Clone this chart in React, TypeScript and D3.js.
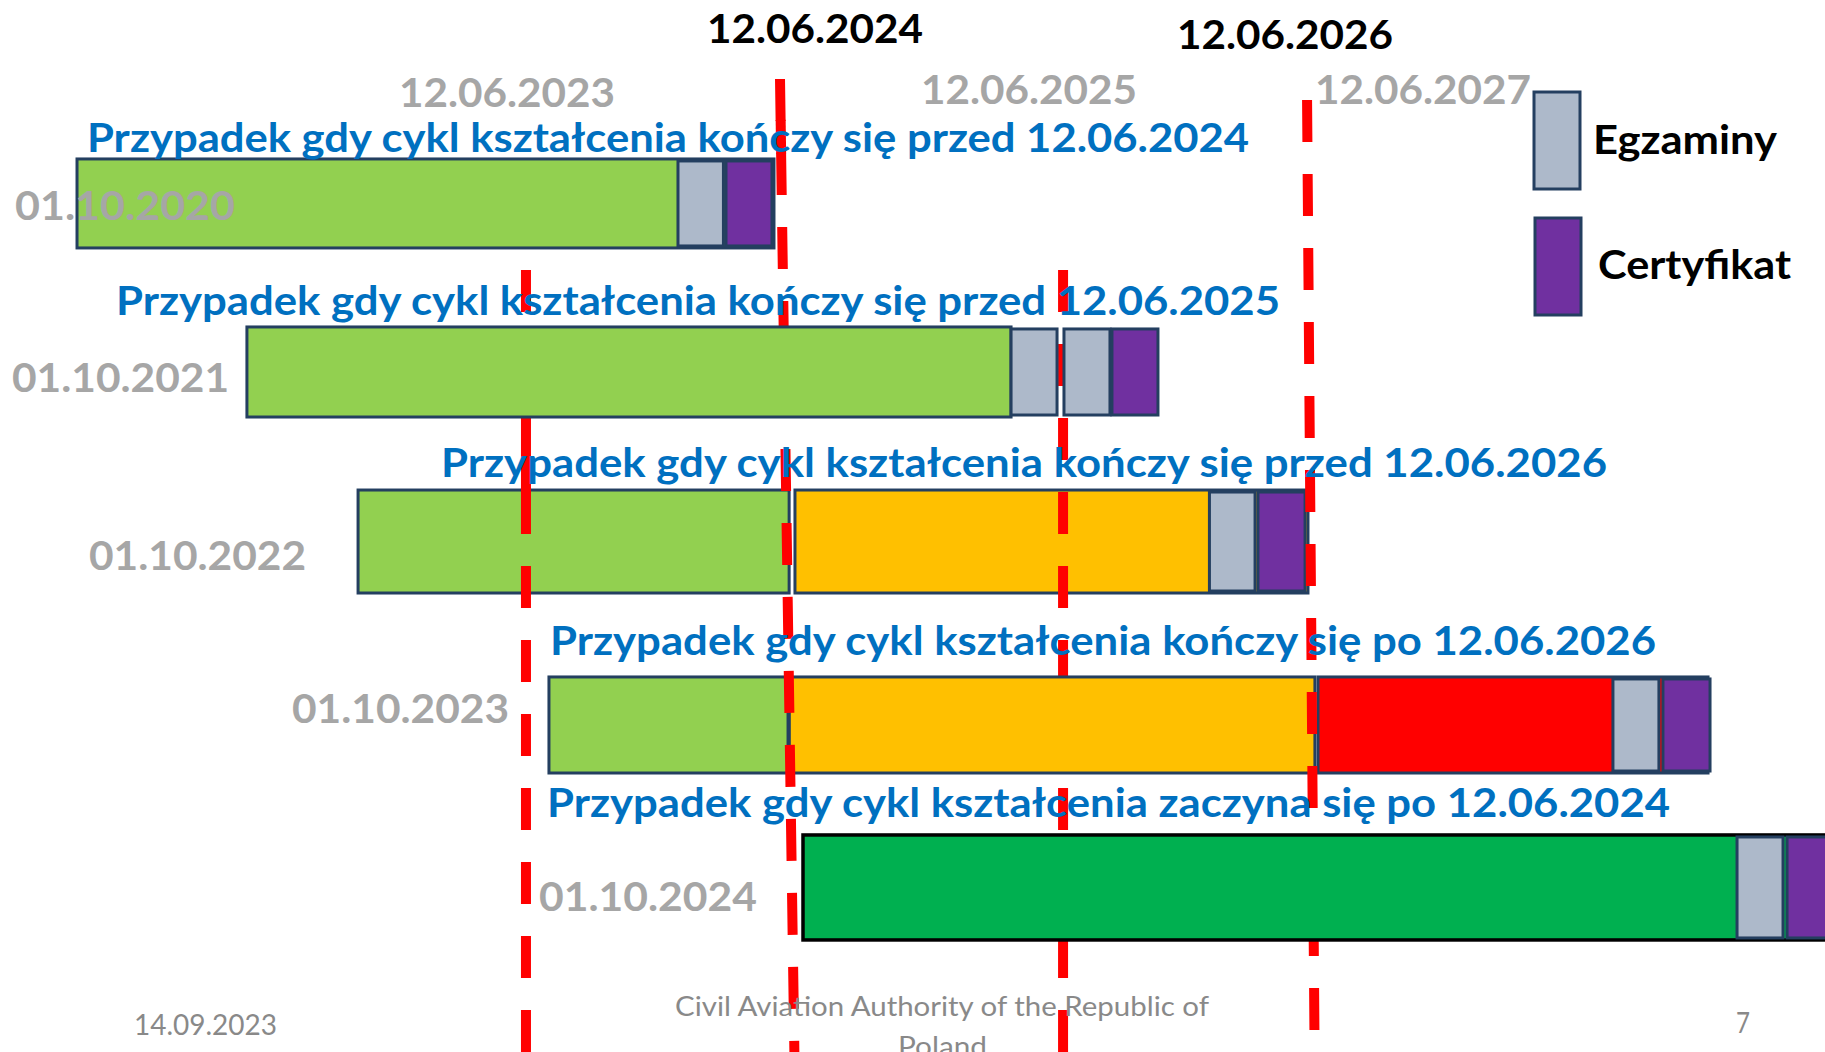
import * as d3 from 'd3'

const W = 1825
const H = 1052

// slide is a schematic timeline, positions are in % of slide width / height
const x = d3.scaleLinear().domain([0, 100]).range([0, W])
const y = d3.scaleLinear().domain([0, 100]).range([0, H])

const ROW_LABELS = ['01.10.2020', '01.10.2021', '01.10.2022', '01.10.2023', '01.10.2024']
const ROW_TITLES = [
  'Przypadek gdy cykl kształcenia kończy się przed 12.06.2024',
  'Przypadek gdy cykl kształcenia kończy się przed 12.06.2025',
  'Przypadek gdy cykl kształcenia kończy się przed 12.06.2026',
  'Przypadek gdy cykl kształcenia kończy się po 12.06.2026',
  'Przypadek gdy cykl kształcenia zaczyna się po 12.06.2024',
]
const ROW_TOP = [15.11, 31.08, 46.58, 64.35, 79.37]
const ROW_BOTTOM = [23.57, 39.64, 56.37, 73.48, 89.35]

// [row, kind, start, end]
const SEGMENTS: [number, string, number, number][] = [
  [0, 'green', 4.22, 42.41],
  [0, 'exam', 37.15, 39.64],
  [0, 'cert', 39.78, 42.3],
  [1, 'green', 13.53, 55.4],
  [1, 'exam', 55.4, 57.92],
  [1, 'exam', 58.3, 60.82],
  [1, 'cert', 60.93, 63.45],
  [2, 'green', 19.62, 43.24],
  [2, 'yellow', 43.56, 71.67],
  [2, 'exam', 66.27, 68.77],
  [2, 'cert', 68.93, 71.51],
  [3, 'green', 30.08, 43.18],
  [3, 'yellow', 43.25, 72.05],
  [3, 'red', 72.22, 93.59],
  [3, 'exam', 88.38, 90.9],
  [3, 'cert', 91.12, 93.7],
  [4, 'newgreen', 44.0, 100.6],
  [4, 'exam', 95.18, 97.7],
  [4, 'cert', 97.92, 100.6],
]

const REF_DATES = ['12.06.2023', '12.06.2024', '12.06.2025', '12.06.2026']
const REF_X_TOP = [28.82, 42.74, 58.25, 71.62]
const REF_X_BOTTOM = [28.82, 43.56, 58.25, 72.05]
const REF_Y_TOP = [25.67, 7.51, 25.67, 9.51]
// places where a gap of the dashed line is filled in
const REF_FILLED: [number, number, number][] = [
  [1, 11.4, 14.6],
  [0, 43.6, 46.9],
]

const TOP_DATES = ['12.06.2023', '12.06.2024', '12.06.2025', '12.06.2026', '12.06.2027']
const TOP_DATE_BOLD_BLACK = [false, true, false, true, false]

const LEGEND_LABELS = ['Egzaminy', 'Certyfikat']
const LEGEND_KINDS = ['exam', 'cert']

const FOOTER_DATE = '14.09.2023'
const FOOTER_ORG = ['Civil Aviation Authority of the Republic of', 'Poland']
const FOOTER_PAGE = '7'

const FILL: Record<string, string> = {
  green: '#92D050',
  newgreen: '#00B050',
  yellow: '#FFC000',
  red: '#FF0000',
  exam: '#ADB9CA',
  cert: '#7030A0',
}

// drawing order: some dashed lines pass over some bars and under others
const LAYERS: [string, number][] = [
  ['row', 2],
  ['line', 0],
  ['line', 2],
  ['row', 3],
  ['line', 1],
  ['line', 3],
  ['row', 1],
  ['row', 4],
  ['row', 0],
]

// text layout: [x, baseline, width]
const TITLE_POS = [
  [87, 152, 1162],
  [116, 315, 1164],
  [441, 477, 1166],
  [550, 655, 1106],
  [547, 817, 1123],
]
const ROW_LABEL_POS = [
  [15, 220, 220],
  [12, 392, 217],
  [89, 570, 217],
  [292, 723, 217],
  [539, 911, 218],
]
const TOP_DATE_POS = [
  [399, 107, 216],
  [707, 43, 216],
  [921, 104, 216],
  [1177, 49, 216],
  [1315, 104, 216],
]
const LEGEND_BOX = [
  [1534, 92, 46, 97],
  [1535, 218, 46, 97],
]
const LEGEND_TEXT_POS = [
  [1593, 154, 184],
  [1598, 279, 193],
]

const FONT = 'Lato, "Open Sans", sans-serif'
const EDGE = '#243F60'

function Row({ i }: { i: number }) {
  const segs = SEGMENTS.filter((s) => s[0] === i)
  const top = y(ROW_TOP[i])
  const bottom = y(ROW_BOTTOM[i])
  return (
    <g>
      {segs.map(([, kind, s, e], k) => {
        const inner = kind === 'exam' || kind === 'cert'
        const inset = inner ? 2 : 0
        return (
          <rect
            key={k}
            x={x(s)}
            y={top + inset}
            width={x(e) - x(s)}
            height={bottom - top - inset * 2}
            fill={FILL[kind]}
            stroke={kind === 'newgreen' ? '#000' : EDGE}
            strokeWidth={kind === 'newgreen' ? 3.5 : 3}
          />
        )
      })}
    </g>
  )
}

function RefLine({ i }: { i: number }) {
  const x0 = x(REF_X_TOP[i])
  const x1 = x(REF_X_BOTTOM[i])
  const y0 = y(REF_Y_TOP[i])
  const at = (v: number) => x0 + ((x1 - x0) * (v - y0)) / (H - y0)
  return (
    <g>
      <line
        x1={x0}
        y1={y0}
        x2={x1}
        y2={H + 40}
        stroke="#FF0000"
        strokeWidth={10}
        strokeDasharray="42 32"
      />
      {REF_FILLED.filter((f) => f[0] === i).map(([, a, b], k) => (
        <line
          key={k}
          x1={at(y(a))}
          y1={y(a)}
          x2={at(y(b))}
          y2={y(b)}
          stroke="#FF0000"
          strokeWidth={10}
        />
      ))}
    </g>
  )
}

function Label({
  pos,
  text,
  size,
  color,
  weight = 700,
}: {
  pos: number[]
  text: string
  size: number
  color: string
  weight?: number
}) {
  return (
    <text
      x={pos[0]}
      y={pos[1]}
      textLength={pos[2]}
      lengthAdjust="spacingAndGlyphs"
      fontFamily={FONT}
      fontWeight={weight}
      fontSize={size}
      fill={color}
    >
      {text}
    </text>
  )
}

export default function App() {
  return (
    <svg
      width={W}
      height={H}
      viewBox={`0 0 ${W} ${H}`}
      style={{ position: 'absolute', left: 0, top: 0, display: 'block', background: '#fff' }}
    >
      {LAYERS.map(([type, i]) =>
        type === 'row' ? <Row key={`r${i}`} i={i} /> : <RefLine key={`l${i}`} i={i} />
      )}

      {TOP_DATES.map((d, i) => (
        <Label
          key={d}
          pos={TOP_DATE_POS[i]}
          text={d}
          size={39.5}
          color={TOP_DATE_BOLD_BLACK[i] ? '#000' : '#A6A6A6'}
        />
      ))}

      {ROW_TITLES.map((t, i) => (
        <Label key={i} pos={TITLE_POS[i]} text={t} size={39.5} color="#0070C0" />
      ))}

      {ROW_LABELS.map((t, i) => (
        <Label key={t} pos={ROW_LABEL_POS[i]} text={t} size={41} color="#A6A6A6" />
      ))}

      {LEGEND_LABELS.map((t, i) => (
        <g key={t}>
          <rect
            x={LEGEND_BOX[i][0]}
            y={LEGEND_BOX[i][1]}
            width={LEGEND_BOX[i][2]}
            height={LEGEND_BOX[i][3]}
            fill={FILL[LEGEND_KINDS[i]]}
            stroke={EDGE}
            strokeWidth={3}
          />
          <Label pos={LEGEND_TEXT_POS[i]} text={t} size={40.5} color="#000" />
        </g>
      ))}

      <Label pos={[134, 1035, 143]} text={FOOTER_DATE} size={28} color="#898989" weight={400} />
      <Label pos={[675, 1016, 534]} text={FOOTER_ORG[0]} size={27} color="#898989" weight={400} />
      <Label pos={[898, 1056, 89]} text={FOOTER_ORG[1]} size={27} color="#898989" weight={400} />
      <Label pos={[1736, 1033, 14]} text={FOOTER_PAGE} size={28} color="#898989" weight={400} />
    </svg>
  )
}
